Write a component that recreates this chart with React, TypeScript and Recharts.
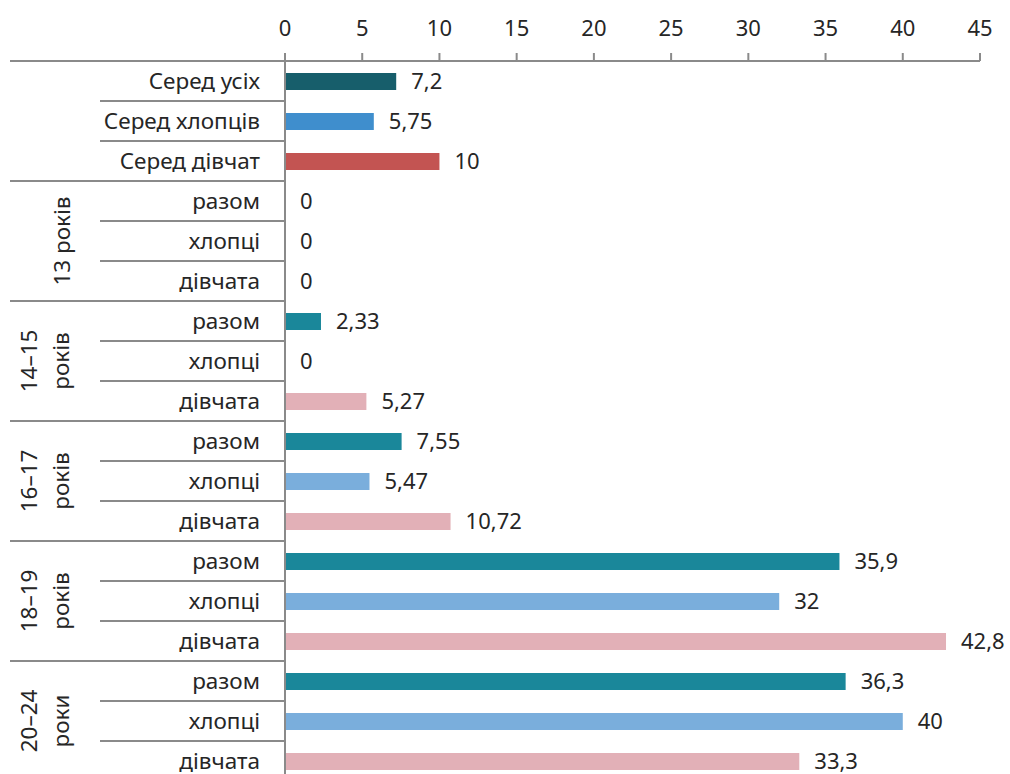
import { Bar, BarChart, Cell, LabelList, XAxis, YAxis } from "recharts";

const FONT = "'Noto Sans', sans-serif";
const TEXT = "#262626";
const LINE = "#8a8a8a";

// row labels, top to bottom
const rowLabels = [
  "Серед усіх",
  "Серед хлопців",
  "Серед дівчат",
  "разом",
  "хлопці",
  "дівчата",
  "разом",
  "хлопці",
  "дівчата",
  "разом",
  "хлопці",
  "дівчата",
  "разом",
  "хлопці",
  "дівчата",
  "разом",
  "хлопці",
  "дівчата",
];

const values = [
  7.2, 5.75, 10, 0, 0, 0, 2.33, 0, 5.27, 7.55, 5.47, 10.72, 35.9, 32, 42.8,
  36.3, 40, 33.3,
];

const rowColors = [
  "#175e6b", // all
  "#3f8ecd", // boys
  "#c35452", // girls
  "#1a879a", "#7aaedc", "#e2b0b7",
  "#1a879a", "#7aaedc", "#e2b0b7",
  "#1a879a", "#7aaedc", "#e2b0b7",
  "#1a879a", "#7aaedc", "#e2b0b7",
  "#1a879a", "#7aaedc", "#e2b0b7",
];

// age groups, three rows each
const groupLabels: string[][] = [
  [],
  ["13 років"],
  ["14–15", "років"],
  ["16–17", "років"],
  ["18–19", "років"],
  ["20–24", "роки"],
];

const xTicks = [0, 5, 10, 15, 20, 25, 30, 35, 40, 45];

const data = rowLabels.map((label, i) => ({
  key: `r${i}`,
  label,
  value: values[i],
}));

const CHART_W = 1010;
const CHART_H = 800;
const PLOT_TOP = 61;
const PLOT_BOTTOM = 781;
const AXIS_W = 285;
const ROW_H = (PLOT_BOTTOM - PLOT_TOP) / data.length;

function RowTick(props: any) {
  const { y, payload } = props;
  const i = payload.index as number;
  const groupEnd = i % 3 === 2;
  const group = groupLabels[Math.floor(i / 3)];
  return (
    <g>
      {i === 0 && (
        <line x1={10} x2={AXIS_W} y1={y - ROW_H / 2} y2={y - ROW_H / 2} stroke={LINE} strokeWidth={2} />
      )}
      <line
        x1={groupEnd ? 10 : 100}
        x2={AXIS_W}
        y1={y + ROW_H / 2}
        y2={y + ROW_H / 2}
        stroke={LINE}
        strokeWidth={2}
      />
      <text x={AXIS_W - 25} y={y} dy="0.35em" textAnchor="end" fill={TEXT} fontSize={22.5}>
        {rowLabels[i]}
      </text>
      {i % 3 === 1 &&
        group.map((line, k) => {
          const base = group.length === 1 ? 70 : k === 0 ? 37 : 69;
          return (
            <text
              key={k}
              transform={`translate(${base},${y}) rotate(-90)`}
              textAnchor="middle"
              fill={TEXT}
              fontSize={22.5}
            >
              {line}
            </text>
          );
        })}
    </g>
  );
}

const fmt = (v: any) => String(v).replace(".", ",");

export default function App() {
  return (
    <div
      style={{
        position: "absolute",
        left: 0,
        top: 0,
        width: CHART_W,
        height: 774,
        overflow: "hidden",
        background: "#fff",
        fontFamily: FONT,
      }}
    >
      <BarChart
        width={CHART_W}
        height={CHART_H}
        data={data}
        layout="vertical"
        margin={{ top: 31, right: 30, left: 0, bottom: CHART_H - PLOT_BOTTOM }}
      >
        <XAxis
          type="number"
          orientation="top"
          domain={[0, 45]}
          ticks={xTicks}
          height={30}
          tickSize={8}
          tickMargin={17}
          axisLine={{ stroke: LINE, strokeWidth: 2 }}
          tickLine={{ stroke: LINE, strokeWidth: 2 }}
          tick={{ fill: TEXT, fontSize: 22 }}
        />
        <YAxis
          type="category"
          dataKey="key"
          width={AXIS_W}
          axisLine={{ stroke: LINE, strokeWidth: 2 }}
          tickLine={false}
          tickSize={0}
          tick={<RowTick />}
          interval={0}
        />
        <Bar dataKey="value" barSize={17} minPointSize={0.01} isAnimationActive={false}>
          {data.map((d, i) => (
            <Cell key={d.key} fill={rowColors[i]} />
          ))}
          <LabelList
            dataKey="value"
            position="right"
            offset={15}
            formatter={fmt}
            fill={TEXT}
            fontSize={22}
          />
        </Bar>
      </BarChart>
    </div>
  );
}
